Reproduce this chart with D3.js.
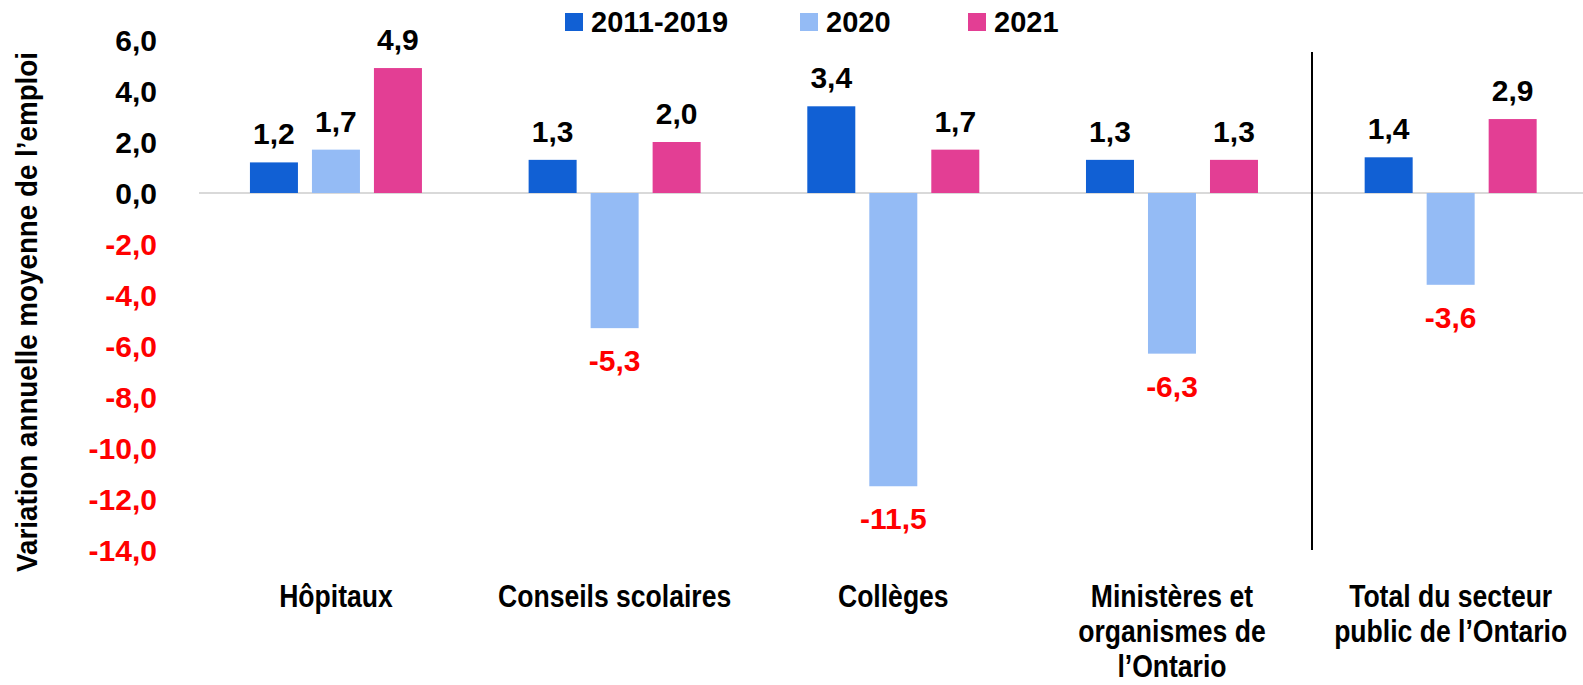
<!DOCTYPE html>
<html><head><meta charset="utf-8">
<script src="https://cdn.jsdelivr.net/npm/d3@7"></script>
<style>
html,body{margin:0;padding:0;background:#fff;}
svg{display:block;}
.b{font-family:"Liberation Sans",Arial,sans-serif;font-weight:bold;}
</style></head><body>
<script>
const categories = [["Hôpitaux"],["Conseils scolaires"],["Collèges"],["Ministères et","organismes de","l’Ontario"],["Total du secteur","public de l’Ontario"]];
const seriesNames = ["2011-2019","2020","2021"];
const s2011_2019 = [1.2, 1.3, 3.4, 1.3, 1.4];
const s2020 = [1.7, -5.3, -11.5, -6.3, -3.6];
const s2021 = [4.9, 2.0, 1.7, 1.3, 2.9];
const yTicks = [6,4,2,0,-2,-4,-6,-8,-10,-12,-14];
const colors = ["#1160D4","#94BBF5","#E33E94"];
const yTitle = "Variation annuelle moyenne de l’emploi";

const W=1583,H=685;
const svg=d3.select("body").append("svg").attr("width",W).attr("height",H);
const x0=d3.scaleBand().domain(d3.range(categories.length)).range([196.6,1590]);
const y=d3.scaleLinear().domain([-14,6]).range([550,40]);
const series=[s2011_2019,s2020,s2021];
const fmt=v=>d3.format(".1f")(v).replace(".",",").replace("\u2212","-");

// y tick labels
svg.append("g").selectAll("text").data(yTicks).join("text")
 .attr("class","b").attr("x",157).attr("y",d=>y(d)).attr("dy","0.36em")
 .attr("text-anchor","end").attr("font-size",30)
 .attr("fill",d=>d<0?"#FF0000":"#000").text(fmt);

// zero line
svg.append("line").attr("x1",199).attr("x2",1583).attr("y1",y(0)).attr("y2",y(0))
 .attr("stroke","#D9D9D9").attr("stroke-width",2);

// separator
svg.append("line").attr("x1",1312).attr("x2",1312).attr("y1",52).attr("y2",550)
 .attr("stroke","#000").attr("stroke-width",2);

const bw=48, gap=14;
const groupW=bw*3+gap*2;
const bx=(i,si)=>x0(i)+x0.bandwidth()/2-groupW/2+si*(bw+gap);
series.forEach((s,si)=>{
  const g=svg.append("g");
  g.selectAll("rect").data(s).join("rect")
   .attr("x",(d,i)=>bx(i,si))
   .attr("width",bw)
   .attr("y",d=>y(Math.max(0,d)))
   .attr("height",d=>Math.abs(y(d)-y(0)))
   .attr("fill",colors[si]);
  g.selectAll("text").data(s).join("text")
   .attr("class","b").attr("font-size",30).attr("text-anchor","middle")
   .attr("x",(d,i)=>bx(i,si)+bw/2)
   .attr("y",d=>d>=0?y(d)-18:y(d)+43)
   .attr("fill",d=>d<0?"#FF0000":"#000").text(fmt);
});

// category labels (condensed)
categories.forEach((lines,i)=>{
  const g=svg.append("g").attr("transform",`translate(${x0(i)+x0.bandwidth()/2},0) scale(0.83,1)`);
  lines.forEach((l,j)=>g.append("text").attr("class","b").attr("font-size",32)
    .attr("text-anchor","middle").attr("x",0).attr("y",607+j*35).text(l));
});

// y title
svg.append("text").attr("class","b").attr("font-size",30).attr("text-anchor","middle")
 .attr("transform","translate(37,312) rotate(-90)")
 .attr("textLength",520).attr("lengthAdjust","spacingAndGlyphs").text(yTitle);

// legend
const legX=[565,800,968];
seriesNames.forEach((n,i)=>{
  svg.append("rect").attr("x",legX[i]).attr("y",13).attr("width",18).attr("height",18).attr("fill",colors[i]);
  svg.append("text").attr("class","b").attr("font-size",29).attr("x",legX[i]+26).attr("y",32).text(n);
});
</script>
</body></html>
